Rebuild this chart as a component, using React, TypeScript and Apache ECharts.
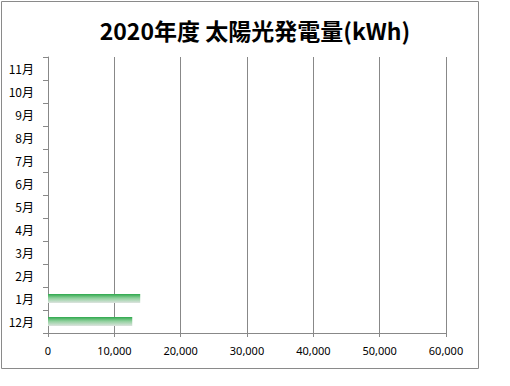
import React, { useEffect, useRef } from "react";
import * as echarts from "echarts";

const months = ["12月", "1月", "2月", "3月", "4月", "5月", "6月", "7月", "8月", "9月", "10月", "11月"];
const values: (number | null)[] = [12700, 13900, null, null, null, null, null, null, null, null, null, null];
const title = "2020年度 太陽光発電量(kWh)";

export default function App() {
  const ref = useRef<HTMLDivElement>(null);
  useEffect(() => {
    const chart = echarts.init(ref.current!, undefined, { renderer: "svg" });
    chart.setOption({
      animation: false,
      backgroundColor: "#ffffff",
      title: {
        text: title,
        left: 250,
        textAlign: "center",
        top: 13,
        textStyle: { fontFamily: "Noto Sans CJK JP", fontSize: 23, fontWeight: "bold", color: "#000" },
      },
      graphic: [
        {
          type: "rect",
          shape: { x: 1.5, y: 1.5, width: 477, height: 367 },
          style: { fill: "none", stroke: "#8a8a8a", lineWidth: 1 },
          silent: true,
        },
      ],
      grid: { left: 48, right: 64, top: 57, bottom: 53 },
      xAxis: {
        type: "value",
        min: 0,
        max: 60000,
        interval: 10000,
        axisLine: { show: true, lineStyle: { color: "#888" } },
        axisTick: { show: true, length: 4, lineStyle: { color: "#888" } },
        splitLine: { show: true, lineStyle: { color: "#888", width: 1 } },
        axisLabel: {
          color: "#000",
          fontFamily: "Noto Sans",
          fontSize: 11,
          margin: 12,
          formatter: (v: number) => v.toLocaleString("en-US"),
        },
      },
      yAxis: {
        type: "category",
        data: months,
        axisLine: { show: true, lineStyle: { color: "#888" } },
        axisTick: { show: true, length: 5, lineStyle: { color: "#888" } },
        axisLabel: { color: "#000", fontFamily: "Noto Sans CJK JP", fontSize: 12, margin: 14 },
      },
      series: [
        {
          type: "bar",
          data: values,
          barWidth: 9,
          itemStyle: {
            color: new echarts.graphic.LinearGradient(0, 0, 0, 1, [
              { offset: 0, color: "#2ea84c" },
              { offset: 0.45, color: "#8fd09c" },
              { offset: 1, color: "#dde3df" },
            ]),
          },
        },
      ],
    });
    return () => chart.dispose();
  }, []);
  return <div ref={ref} style={{ position: "fixed", left: 0, top: 0, width: 510, height: 386 }} />;
}
